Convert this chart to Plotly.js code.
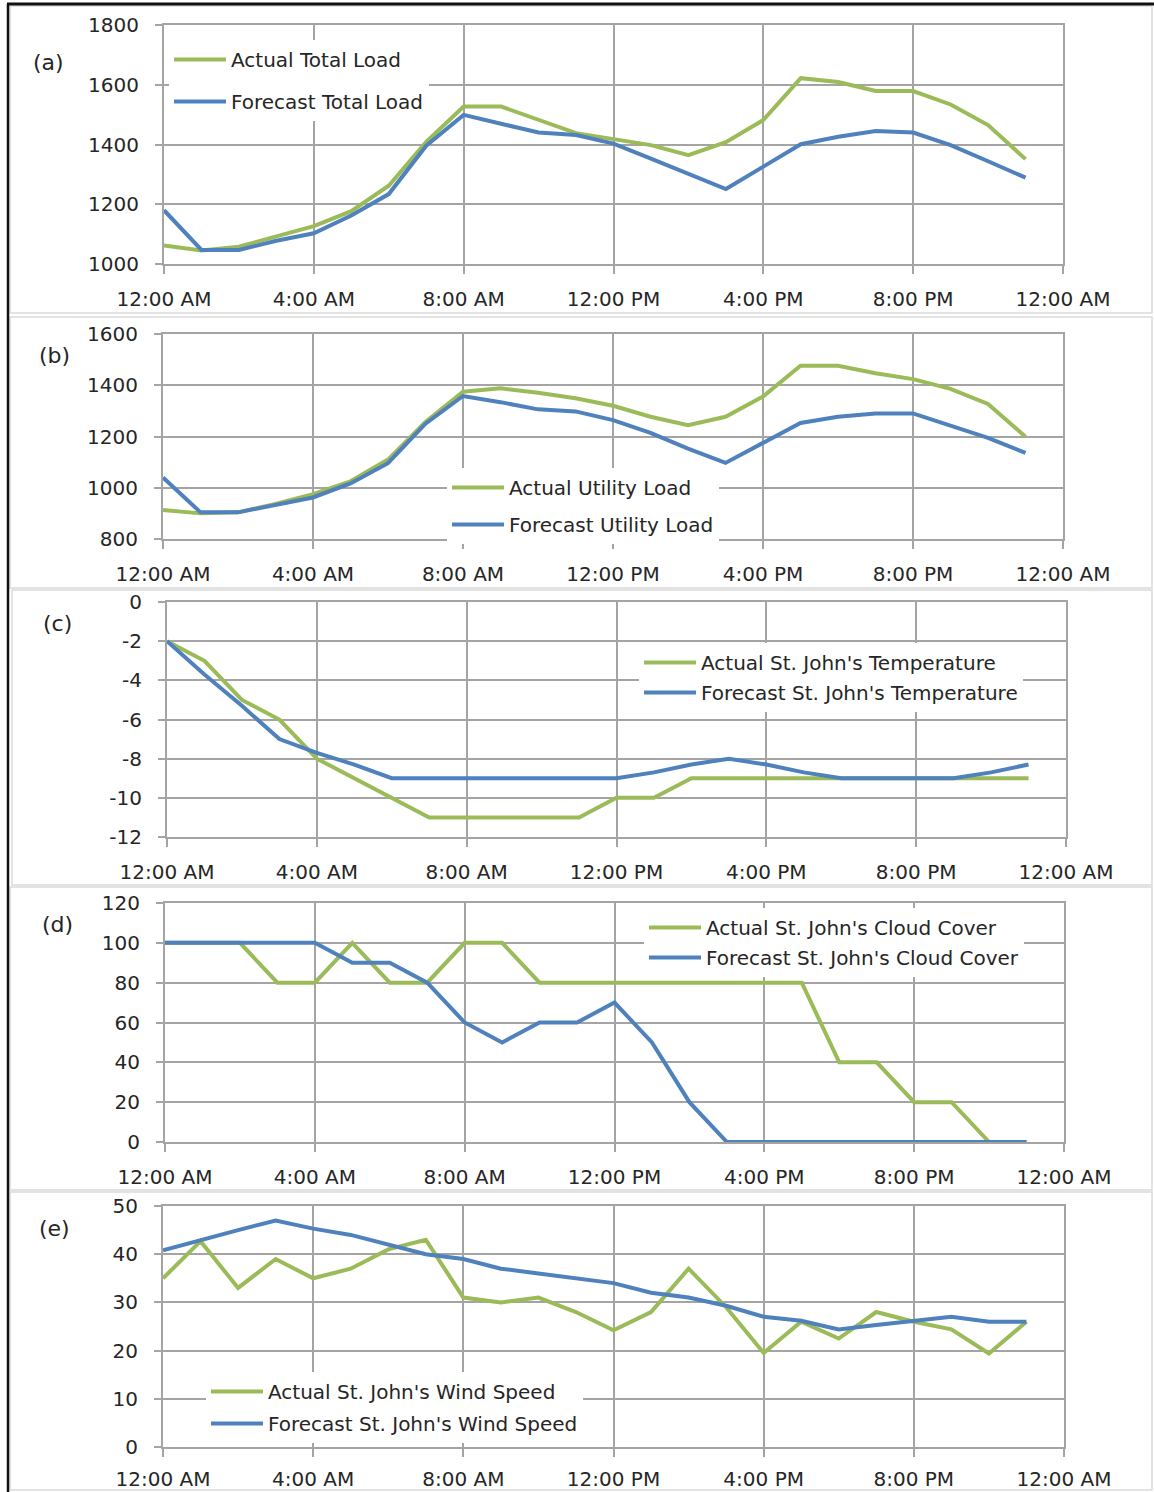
<!DOCTYPE html>
<html>
<head>
<meta charset="utf-8">
<script src="https://cdn.plot.ly/plotly-3.0.1.min.js"></script>
<style>
html,body{margin:0;padding:0;background:#fff;}
#chart{width:1154px;height:1492px;}
</style>
</head>
<body>
<div id="chart"></div>
<script>
// ---------- DATA ----------
const hours = [0,1,2,3,4,5,6,7,8,9,10,11,12,13,14,15,16,17,18,19,20,21,22,23];
const tickHours = [0,4,8,12,16,20,24];
const tickLabels = ['12:00 AM','4:00 AM','8:00 AM','12:00 PM','4:00 PM','8:00 PM','12:00 AM'];

const actualTotalLoad   = [1062,1045,1058,1091,1127,1177,1262,1409,1527,1527,1482,1438,1418,1398,1364,1408,1482,1622,1609,1579,1579,1534,1465,1351];
const forecastTotalLoad = [1180,1047,1047,1078,1103,1162,1234,1396,1499,1471,1440,1432,1403,1353,1303,1251,1326,1401,1426,1445,1440,1398,1344,1289];

const actualUtilityLoad   = [913,900,904,937,975,1025,1110,1257,1375,1388,1371,1349,1320,1277,1244,1277,1356,1476,1476,1447,1424,1386,1327,1199];
const forecastUtilityLoad = [1040,904,904,933,962,1017,1096,1250,1358,1334,1306,1298,1264,1214,1153,1097,1173,1253,1277,1290,1290,1244,1195,1136];

const actualTemp   = [-2,-3,-5,-6,-8,-9,-10,-11,-11,-11,-11,-11,-10,-10,-9,-9,-9,-9,-9,-9,-9,-9,-9,-9];
const forecastTemp = [-2,-3.7,-5.3,-7,-7.7,-8.3,-9,-9,-9,-9,-9,-9,-9,-8.7,-8.3,-8,-8.3,-8.7,-9,-9,-9,-9,-8.7,-8.3];

const actualCloud   = [100,100,100,80,80,100,80,80,100,100,80,80,80,80,80,80,80,80,40,40,20,20,0,0];
const forecastCloud = [100,100,100,100,100,90,90,80,60,50,60,60,70,50,20,0,0,0,0,0,0,0,0,0];

const actualWind   = [35,42.7,33,39,35,37,41,43,31,30,31,28,24.2,28,37,29,19.5,26,22.5,28,26,24.4,19.4,26];
const forecastWind = [40.8,43,45,47,45.3,44,42,40,39,37,36,35,34,32,31,29.3,27,26.2,24.4,25.3,26.2,27,26,26];

const loadTicksA = [1000,1200,1400,1600,1800];
const loadTicksB = [800,1000,1200,1400,1600];
const tempTicks  = [-12,-10,-8,-6,-4,-2,0];
const cloudTicks = [0,20,40,60,80,100,120];
const windTicks  = [0,10,20,30,40,50];

const panelLabels = ['(a)','(b)','(c)','(d)','(e)'];
const seriesNames = [
  ['Actual Total Load','Forecast Total Load'],
  ['Actual Utility Load','Forecast Utility Load'],
  ["Actual St. John's Temperature","Forecast St. John's Temperature"],
  ["Actual St. John's Cloud Cover","Forecast St. John's Cloud Cover"],
  ["Actual St. John's Wind Speed","Forecast St. John's Wind Speed"]
];
const seriesValues = [
  [actualTotalLoad, forecastTotalLoad],
  [actualUtilityLoad, forecastUtilityLoad],
  [actualTemp, forecastTemp],
  [actualCloud, forecastCloud],
  [actualWind, forecastWind]
];
const yTicks = [loadTicksA, loadTicksB, tempTicks, cloudTicks, windTicks];

// ---------- STYLE / LAYOUT ----------
const W = 1154, H = 1492;
const px = x => x / W;
const py = y => 1 - y / H;
const FONT = '"DejaVu Sans", Verdana, sans-serif';
const TXT = '#262626';
const GRID = '#a4a4a4';
const GREEN = '#9BBB59';
const BLUE = '#4F81BD';

// plot-area pixel boxes [left, right, top, bottom]
const boxes = [
  [164,1063,25,264],
  [163,1063,334,539],
  [167,1066,602,837],
  [165,1064,903,1142],
  [163,1064,1206,1447]
];
// legend: [swatch start x, first item centre y, tracegroupgap]
const legendPos = [
  [175,60,13],
  [453,488,8],
  [645,663,1],
  [650,928,1],
  [212,1392,3]
];
const xStandoff = [8,8,8,8,5];
const labelPos = [[48,62],[54,355],[57,623],[57,924],[54,1228]];
const chartBoxes = [[10,6,1152,313],[10,317,1152,588],[12,590,1152,885],[10,887,1152,1190],[10,1192,1152,1490]];

const traces = [];
const layout = {
  width: W, height: H,
  margin: {l:0,r:0,t:0,b:0},
  paper_bgcolor: '#fff', plot_bgcolor: '#fff',
  showlegend: true,
  font: {family: FONT, size: 20, color: TXT},
  annotations: [],
  shapes: []
};

for (let i = 0; i < 5; i++) {
  const n = i === 0 ? '' : String(i + 1);
  const legName = 'legend' + n;
  const colors = [GREEN, BLUE];
  for (let s = 0; s < 2; s++) {
    traces.push({
      type: 'scatter', mode: 'lines',
      x: hours, y: seriesValues[i][s],
      name: seriesNames[i][s],
      line: {color: colors[s], width: 4},
      xaxis: 'x' + n, yaxis: 'y' + n,
      legend: legName, legendgroup: 'g' + i + '_' + s,
      hoverinfo: 'x+y'
    });
  }
  const b = boxes[i];
  const yt = yTicks[i];
  layout['xaxis' + n] = {
    domain: [px(b[0]), px(b[1])],
    anchor: 'y' + n,
    range: [0, 24],
    tickmode: 'array', tickvals: tickHours, ticktext: tickLabels,
    showgrid: true, gridcolor: GRID, gridwidth: 2,
    showline: true, linecolor: GRID, linewidth: 2, mirror: true,
    ticks: 'outside', ticklen: 8, tickcolor: GRID, tickwidth: 2,
    ticklabelstandoff: xStandoff[i],
    tickfont: {family: FONT, size: 20, color: TXT},
    zeroline: false, fixedrange: true
  };
  layout['yaxis' + n] = {
    domain: [py(b[3]), py(b[2])],
    anchor: 'x' + n,
    range: [yt[0], yt[yt.length - 1]],
    tickmode: 'array', tickvals: yt, ticktext: yt.map(v => String(v)),
    showgrid: true, gridcolor: GRID, gridwidth: 2,
    showline: true, linecolor: GRID, linewidth: 2, mirror: true,
    ticks: 'outside', ticklen: 7, tickcolor: GRID, tickwidth: 2,
    ticklabelstandoff: 12,
    tickfont: {family: FONT, size: 20, color: TXT},
    zeroline: false, fixedrange: true
  };
  const lp = legendPos[i];
  layout[legName] = {
    x: px(lp[0] - 6), y: py(lp[1] - 20), xanchor: 'left', yanchor: 'top',
    xref: 'paper', yref: 'paper',
    bgcolor: '#ffffff', borderwidth: 0,
    font: {family: FONT, size: 20, color: TXT},
    traceorder: 'grouped', tracegroupgap: lp[2],
    itemwidth: 52, itemclick: false, itemdoubleclick: false
  };
  layout.annotations.push({
    xref: 'paper', yref: 'paper', x: px(labelPos[i][0]), y: py(labelPos[i][1]),
    xanchor: 'center', yanchor: 'middle', showarrow: false,
    text: panelLabels[i], font: {family: FONT, size: 22, color: TXT}
  });
  const cb = chartBoxes[i];
  layout.shapes.push({
    type: 'rect', xref: 'paper', yref: 'paper', layer: 'below',
    x0: px(cb[0]), x1: px(cb[2]), y0: py(cb[3]), y1: py(cb[1]),
    line: {color: '#dadada', width: 1.5}, fillcolor: 'rgba(0,0,0,0)'
  });
}
// outer document frame (top and left black rules)
layout.shapes.push({type:'line', xref:'paper', yref:'paper', x0: px(7), x1: 1, y0: py(4), y1: py(4), line:{color:'#111', width:3}});
layout.shapes.push({type:'line', xref:'paper', yref:'paper', x0: px(8), x1: px(8), y0: 0, y1: py(4), line:{color:'#111', width:2.5}});

Plotly.newPlot('chart', traces, layout, {displayModeBar: false, staticPlot: true});
</script>
</body>
</html>
